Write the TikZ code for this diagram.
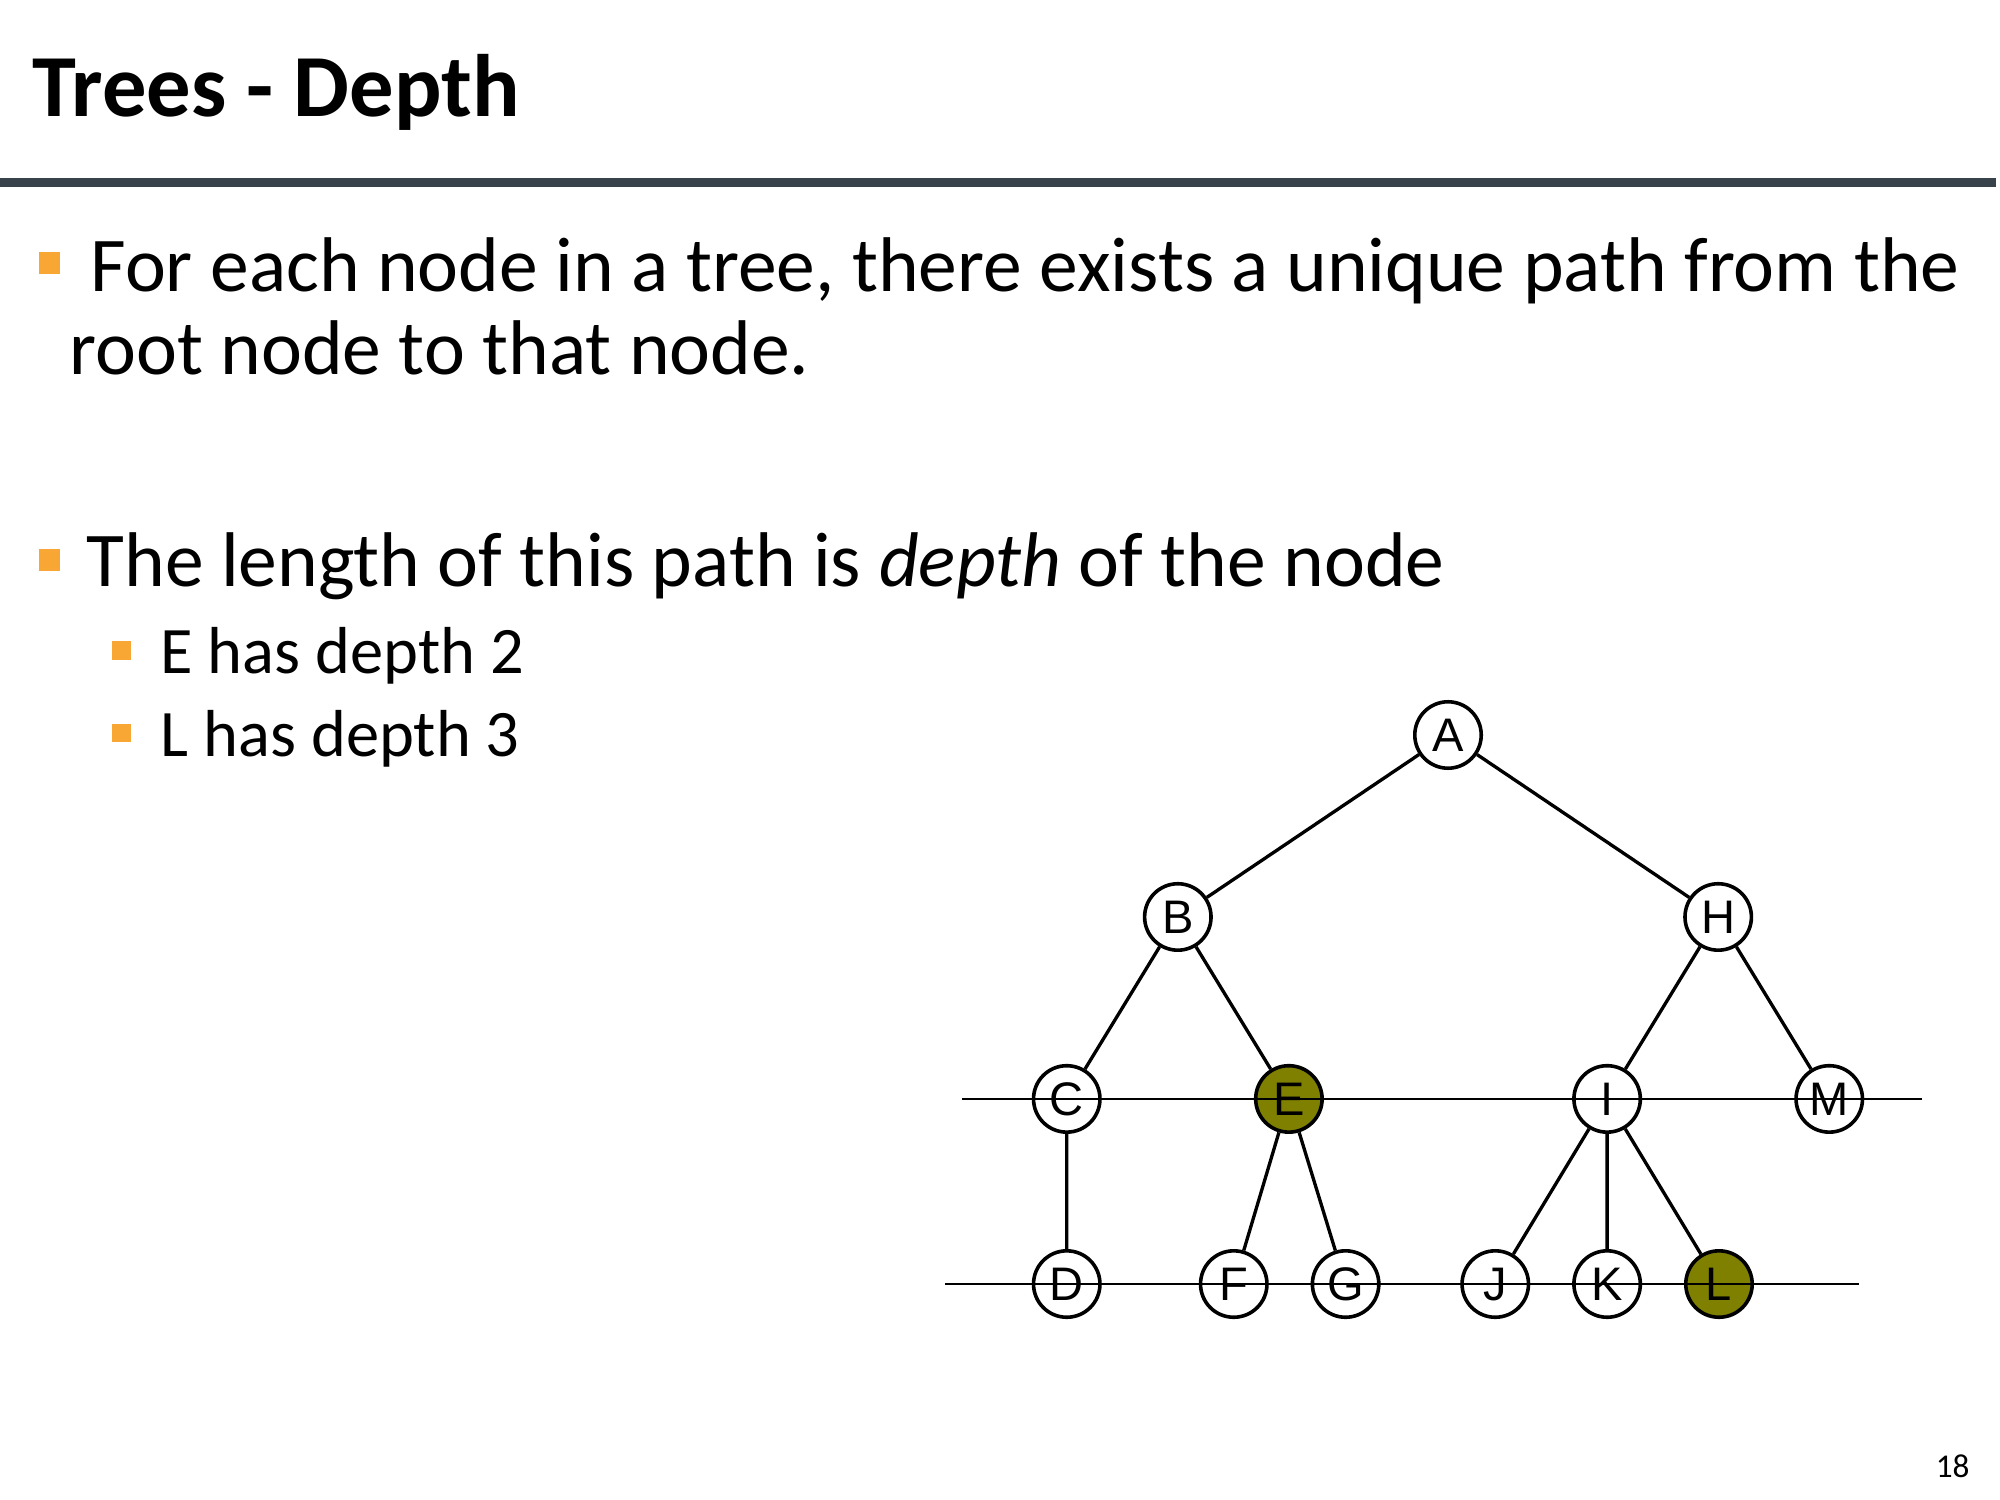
\documentclass[tikz,border=0pt]{standalone}
\usepackage{fontspec}
\setmainfont{Carlito}
\newfontfamily\treefont{Liberation Sans}
\usetikzlibrary{positioning}
\definecolor{bulletorange}{RGB}{249,167,52}
\definecolor{ruledark}{RGB}{55,66,74}
\definecolor{marked}{RGB}{128,128,0}
\tikzset{
    x=0.0127cm, y=-0.0127cm,                        % Work in slide pixels
    vert/.style={circle, draw, line width=1.3pt, minimum size=24pt, inner sep=0pt,
                 fill=white, font=\treefont\fontsize{17}{17}\selectfont}, % Tree vertices
    hit/.style={vert, fill=marked},                 % Vertices whose depth is given
    link/.style={line width=1.2pt},                 % Parent to child lines
    depthline/.style={line width=0.7pt},            % Horizontal lines through a level
    bul/.style={fill=bulletorange, inner sep=0pt, minimum size=7.9pt},   % First level bullet
    subbul/.style={bul, minimum size=6.8pt},        % Second level bullet
    body/.style={anchor=base west, inner sep=0pt, font=\fontsize{28}{30}\selectfont},
    subbody/.style={body, font=\fontsize{24}{28}\selectfont}
}

\begin{document}
\begin{tikzpicture}[node distance = 2.31cm and 1.41cm, on grid]
    \useasboundingbox (0,0) rectangle (2000,1500);

    % Title and rule
    \node[anchor=base west, inner sep=0pt, font=\bfseries\fontsize{32}{36}\selectfont] (title) at (32,117) {Trees - Depth};
    \fill[ruledark] (0,178) rectangle (1996,187);

    % Bullet points
    \node[bul] (b1) at (49.5,263) {};
    \node[body] (t1) at (90,292) {For each node in a tree, there exists a unique path from the};
    \node[body] (t2) at (69,375) {root node to that node.};
    \node[bul] (b2) at (49.5,560) {};
    \node[body] (t3) at (86,587) {The length of this path is \textit{depth} of the node};
    \node[subbul] (b3) at (121.5,650.5) {};
    \node[subbody] (t4) at (160,674) {E has depth 2};
    \node[subbul] (b4) at (121.5,733) {};
    \node[subbody] (t5) at (160,757) {L has depth 3};
    \node[anchor=base east, inner sep=0pt, font=\fontsize{12}{14}\selectfont] (page) at (1970,1477) {18};

    % Define vertices
    \node[vert] (A) at (1448,735) {A};
    \node[vert, below left = 2.31cm and 3.43cm of A] (B) {B};
    \node[vert, below right = 2.31cm and 3.43cm of A] (H) {H};
    \node[vert, below left = of B] (C) {C};
    \node[hit, below right = of B] (E) {E};
    \node[vert, below left = of H] (I) {I};
    \node[vert, below right = of H] (M) {M};
    \node[vert, below = 2.35cm of C] (D) {D};
    \node[vert, below left = 2.35cm and 0.70cm of E] (F) {F};
    \node[vert, below right = 2.35cm and 0.72cm of E] (G) {G};
    \node[vert, below left = 2.35cm and 1.42cm of I] (J) {J};
    \node[vert, below = 2.35cm of I] (K) {K};
    \node[hit, below right = 2.35cm and 1.42cm of I] (L) {L};

    % Draw tree lines
    \draw[link] (A) -- (B)  (A) -- (H)
                (B) -- (C)  (B) -- (E)
                (H) -- (I)  (H) -- (M)
                (C) -- (D)
                (E) -- (F)  (E) -- (G)
                (I) -- (J)  (I) -- (K)  (I) -- (L);

    % Depth lines
    \coordinate (d2a) at (962,1099);
    \coordinate (d2b) at (1922,1099);
    \coordinate (d3a) at (945,1284);
    \coordinate (d3b) at (1859,1284);
    \draw[depthline] (d2a) -- (d2b);
    \draw[depthline] (d3a) -- (d3b);
\end{tikzpicture}
\end{document}
